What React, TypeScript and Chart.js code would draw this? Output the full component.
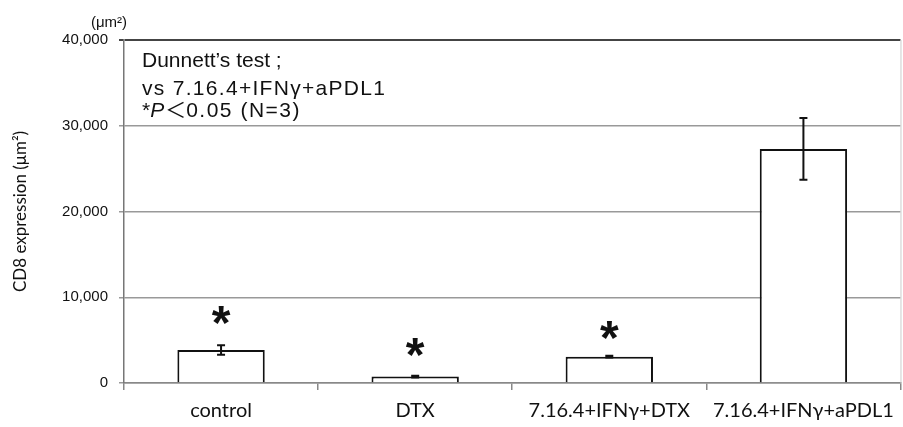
import React, { useEffect, useRef } from "react";
import { Chart, registerables } from "chart.js";

Chart.register(...registerables);

const categories = ["control", "DTX", "7.16.4+IFNγ+DTX", "7.16.4+IFNγ+aPDL1"];
const means = [3850, 750, 3070, 27300];
const errors = [550, 100, 100, 3600];
const starValues = [7930, 4200, 6180, null];
const yTicks = [0, 10000, 20000, 30000, 40000];
const noteLines = ["Dunnett’s test ;", "vs 7.16.4+IFNγ+aPDL1"];
const unitLabel = "(μm²)";
const yTitle = "CD8 expression (μm²)";

const SANS = '"Liberation Sans", Arial, "Noto Sans CJK JP", sans-serif';
const XFONT = 'Lato, "Open Sans", sans-serif';

const overlayPlugin = {
  id: "overlay",
  afterDatasetsDraw(chart: any) {
    const ctx = chart.ctx;
    const x = chart.scales.x;
    const y = chart.scales.y;
    ctx.save();
    // error bars
    ctx.strokeStyle = "#111";
    ctx.lineWidth = 2;
    means.forEach((m, i) => {
      const cx = x.getPixelForValue(i);
      const top = y.getPixelForValue(m + errors[i]);
      const bot = y.getPixelForValue(m - errors[i]);
      ctx.beginPath();
      ctx.moveTo(cx, top);
      ctx.lineTo(cx, bot);
      ctx.moveTo(cx - 4, top);
      ctx.lineTo(cx + 4, top);
      ctx.moveTo(cx - 4, bot);
      ctx.lineTo(cx + 4, bot);
      ctx.stroke();
    });
    // stars
    ctx.fillStyle = "#111";
    ctx.font = `bold 48px ${SANS}`;
    ctx.textAlign = "center";
    ctx.textBaseline = "alphabetic";
    const mt = ctx.measureText("*");
    const glyphMid = (mt.actualBoundingBoxAscent - mt.actualBoundingBoxDescent) / 2;
    starValues.forEach((v, i) => {
      if (v == null) return;
      const cx = x.getPixelForValue(i);
      const cy = y.getPixelForValue(v);
      ctx.fillText("*", cx, cy + glyphMid);
    });
    // note text
    ctx.textAlign = "left";
    ctx.fillStyle = "#111";
    ctx.font = `21px ${SANS}`;
    const lx = chart.chartArea.left + 18;
    ctx.fillText(noteLines[0], lx, 67);
    (ctx as any).letterSpacing = "1.3px";
    ctx.fillText(noteLines[1], lx, 95);
    (ctx as any).letterSpacing = "0px";
    let px = lx;
    const by = 117;
    ctx.fillText("*", px, by);
    px += ctx.measureText("*").width;
    ctx.font = `italic 21px ${SANS}`;
    ctx.fillText("P", px, by);
    px += ctx.measureText("P").width + 1;
    ctx.font = `21px "Noto Sans CJK JP", ${SANS}`;
    ctx.fillText("＜", px, by);
    px += ctx.measureText("＜").width;
    ctx.font = `21px ${SANS}`;
    (ctx as any).letterSpacing = "1.5px";
    ctx.fillText("0.05 (N=3)", px, by);
    (ctx as any).letterSpacing = "0px";
    // unit label
    ctx.font = `15px ${SANS}`;
    ctx.textAlign = "center";
    ctx.fillText(unitLabel, 109, 27);
    // right border
    ctx.strokeStyle = "#ccc";
    ctx.lineWidth = 1;
    ctx.beginPath();
    ctx.moveTo(chart.chartArea.right + 0.5, chart.chartArea.top);
    ctx.lineTo(chart.chartArea.right + 0.5, chart.chartArea.bottom);
    ctx.stroke();
    ctx.restore();
  },
};

export default function App() {
  const ref = useRef<HTMLCanvasElement>(null);
  useEffect(() => {
    if (!ref.current) return;
    const chart = new Chart(ref.current, {
      type: "bar",
      data: {
        labels: categories,
        datasets: [
          {
            data: means,
            backgroundColor: "#ffffff",
            borderColor: "#111111",
            borderWidth: 2,
            borderSkipped: "bottom",
            barPercentage: 0.45,
            categoryPercentage: 1,
          },
        ],
      },
      options: {
        animation: false,
        responsive: false,
        maintainAspectRatio: false,
        layout: { padding: { top: 40, right: 1, left: 0, bottom: 0 } },
        plugins: {
          legend: { display: false },
          tooltip: { enabled: false },
        },
        scales: {
          x: {
            offset: true,
            grid: {
              offset: true,
              drawOnChartArea: false,
              drawTicks: true,
              tickLength: 7,
              color: "#888",
              lineWidth: 1.5,
            },
            border: { color: "#888", width: 1.5 },
            ticks: {
              color: "#111",
              font: { family: XFONT, size: 20 },
              padding: 9,
              maxRotation: 0,
              autoSkip: false,
            },
            afterFit: (s: any) => {
              s.height = 44;
            },
          },
          y: {
            min: 0,
            max: 40000,
            afterBuildTicks: (s: any) => {
              s.ticks = yTicks.map((v) => ({ value: v }));
            },
            grid: {
              color: (c: any) => (c.tick && c.tick.value === 40000 ? "#444" : "#999"),
              lineWidth: (c: any) => (c.tick && c.tick.value === 40000 ? 2 : 1.5),
              tickLength: 5,
              drawTicks: true,
            },
            border: { color: "#777", width: 1.5 },
            ticks: {
              color: "#111",
              font: { family: SANS, size: 15 },
              padding: 11,
              callback: (v: any) => Number(v).toLocaleString("en-US"),
            },
            title: {
              display: true,
              text: yTitle,
              color: "#111",
              font: { family: XFONT, size: 17 },
              padding: { top: 10, bottom: 0 },
            },
            afterFit: (s: any) => {
              s.width = 124;
            },
          },
        },
      },
      plugins: [overlayPlugin],
    });
    return () => chart.destroy();
  }, []);
  return (
    <div style={{ position: "absolute", left: 0, top: 0, width: 903, height: 427, background: "#fff" }}>
      <canvas ref={ref} width={903} height={427} style={{ width: 903, height: 427 }} />
    </div>
  );
}
